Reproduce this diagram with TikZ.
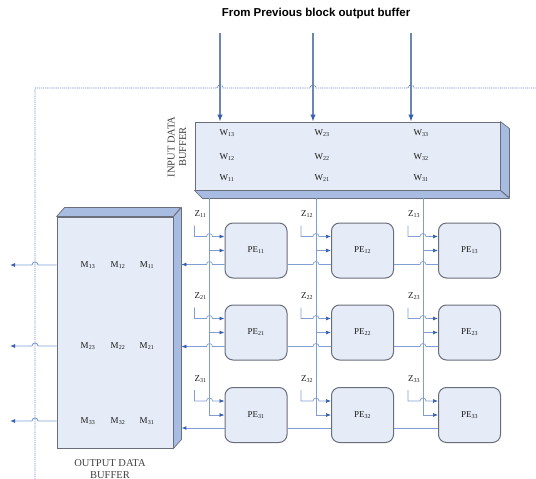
\documentclass[tikz,border=0pt]{standalone}
\usepackage{fontspec}
\setmainfont{Liberation Serif}
\setsansfont{Liberation Sans}
\usetikzlibrary{arrows.meta,calc}
\definecolor{boxfill}{RGB}{229,235,247}
\definecolor{sidefill}{RGB}{168,188,226}
\definecolor{edgegray}{RGB}{105,110,122}
\definecolor{wireblue}{RGB}{128,158,212}
\definecolor{tipblue}{RGB}{55,95,175}
\definecolor{frameblue}{RGB}{112,136,200}
\tikzset{
    buffer/.style={draw=edgegray,fill=boxfill,line width=0.9pt,inner sep=0pt},
    bufside/.style={draw=edgegray,fill=sidefill,line width=0.7pt,line join=round},
    pebox/.style={draw=edgegray,fill=boxfill,rounded corners=8pt,line width=1pt,minimum width=62pt,minimum height=55pt,inner sep=0pt},
    lbl/.style={font=\fontsize{9}{10}\selectfont,text=black!90},
    caplbl/.style={font=\fontsize{10.5}{11.5}\selectfont,text=black!75,align=center},
    wire/.style={draw=wireblue,line width=0.7pt},
    feed/.style={wire,-{Latex[length=5pt,width=4pt,color=tipblue]}},
    inwire/.style={draw=wireblue!85!black,line width=1.2pt,-{Latex[length=7pt,width=5.5pt,color=tipblue]}},
    frame/.style={draw=frameblue,dash pattern=on 1.2pt off 0.9pt,line width=0.9pt}
}
\begin{document}
\begin{tikzpicture}[x=1pt,y=-1pt]
\useasboundingbox (0,0) rectangle (536,479);
\node[font=\sffamily\bfseries\fontsize{11.5}{13}\selectfont] (title) at (316,14) {From Previous block output buffer};
\coordinate (src1) at (220,33);
\coordinate (src2) at (313,33);
\coordinate (src3) at (411,33);
\coordinate (fcorner) at (35,88);
\coordinate (exitx) at (10,0);
% buffers
\node[buffer,minimum width=305pt,minimum height=68pt] (inbuf) at (347.5,156) {};
\draw[bufside] (inbuf.north east) -- ++(9,7) -- ++(0,69) -- (inbuf.south east) -- cycle;
\draw[bufside] (inbuf.south west) -- (inbuf.south east) -- ++(9,8) -- ($(inbuf.south west)+(8,8)$) -- cycle;
\coordinate (inbot) at ($(inbuf.south west)+(8,8)$);
\node[buffer,minimum width=116pt,minimum height=231pt] (outbuf) at (115,332.5) {};
\draw[bufside] (outbuf.north west) -- ++(8,-9) -- ++(116,0) -- (outbuf.north east) -- cycle;
\draw[bufside] (outbuf.north east) -- ++(8,-9) -- ++(0,232) -- (outbuf.south east) -- cycle;
\coordinate (oside) at ($(outbuf.north east)+(8,0)$);
\node[caplbl,rotate=90] (inlbl) at (177,147) {INPUT DATA\\BUFFER};
\node[caplbl] (outlbl) at (110,469) {OUTPUT DATA\\BUFFER};
% buffer contents
\node[lbl,anchor=west] (w13) at (216,133) {W\textsubscript{13}};
\node[lbl,anchor=west] (w23) at (311,133) {W\textsubscript{23}};
\node[lbl,anchor=west] (w33) at (410,133) {W\textsubscript{33}};
\node[lbl,anchor=west] (w12) at (216,157) {W\textsubscript{12}};
\node[lbl,anchor=west] (w22) at (311,157) {W\textsubscript{22}};
\node[lbl,anchor=west] (w32) at (410,157) {W\textsubscript{32}};
\node[lbl,anchor=west] (w11) at (216,178) {W\textsubscript{11}};
\node[lbl,anchor=west] (w21) at (311,178) {W\textsubscript{21}};
\node[lbl,anchor=west] (w31) at (410,178) {W\textsubscript{31}};
\node[lbl] (m13) at (88,265) {M\textsubscript{13}};
\node[lbl] (m12) at (118,265) {M\textsubscript{12}};
\node[lbl] (m11) at (147,265) {M\textsubscript{11}};
\node[lbl] (m23) at (88,346) {M\textsubscript{23}};
\node[lbl] (m22) at (118,346) {M\textsubscript{22}};
\node[lbl] (m21) at (147,346) {M\textsubscript{21}};
\node[lbl] (m33) at (88,421) {M\textsubscript{33}};
\node[lbl] (m32) at (118,421) {M\textsubscript{32}};
\node[lbl] (m31) at (147,421) {M\textsubscript{31}};
% processing elements
\node[pebox] (pe11) at (256,250.5) {};
\node[pebox] (pe12) at (362.5,250.5) {};
\node[pebox] (pe13) at (469.5,250.5) {};
\node[pebox] (pe21) at (256,332.5) {};
\node[pebox] (pe22) at (362.5,332.5) {};
\node[pebox] (pe23) at (469.5,332.5) {};
\node[pebox] (pe31) at (256,415) {};
\node[pebox] (pe32) at (362.5,415) {};
\node[pebox] (pe33) at (469.5,415) {};
\foreach \r in {1,2,3}{\foreach \c in {1,2,3}{
  \node[lbl] at (pe\r\c) {PE\textsubscript{\r\c}};
}}
% frame and inputs
\draw[frame] (35,479) -- (fcorner) -- ($(src1 |- fcorner)+(-3,0)$) arc[start angle=180,end angle=0,radius=3pt] -- ($(src2 |- fcorner)+(-3,0)$) arc[start angle=180,end angle=0,radius=3pt] -- ($(src3 |- fcorner)+(-3,0)$) arc[start angle=180,end angle=0,radius=3pt] -- (536,88);
\draw[inwire] (src1) -- (src1 |- inbuf.north);
\draw[inwire] (src2) -- (src2 |- inbuf.north);
\draw[inwire] (src3) -- (src3 |- inbuf.north);
% weight lines
\foreach \c in {1,2,3}{
  \coordinate (v\c) at ($(pe1\c.west)+(-15,0)$);
  \draw[feed] (v\c |- inbot) -- (v\c |- pe3\c.west) -- (pe3\c.west);
  \draw[feed] (v\c |- pe1\c.west) -- (pe1\c.west);
  \draw[feed] (v\c |- pe2\c.west) -- (pe2\c.west);
}
% z inputs
\foreach \r in {1,2,3}{\foreach \c in {1,2,3}{
  \coordinate (z\r\c) at ($(pe\r\c.west)+(-30,-25)$);
  \node[lbl] (zl\r\c) at ($(z\r\c)+(6,-11)$) {Z\textsubscript{\r\c}};
  \draw[feed] (z\r\c) |- ($(pe\r\c.west)+(-18,-14)$) arc[start angle=180,end angle=0,radius=3pt] -- ($(pe\r\c.west)+(0,-14)$);
}}
% results
\foreach \r in {1,2}{
  \draw[wire] ($(pe\r3.west)+(0,14)$) -- ($(v3 |- pe\r3.west)+(3,14)$) arc[start angle=0,end angle=180,radius=3pt] -- ($(pe\r2.east)+(0,14)$);
  \draw[wire] ($(pe\r2.west)+(0,14)$) -- ($(v2 |- pe\r2.west)+(3,14)$) arc[start angle=0,end angle=180,radius=3pt] -- ($(pe\r1.east)+(0,14)$);
  \draw[feed] ($(pe\r1.west)+(0,14)$) -- ($(v1 |- pe\r1.west)+(3,14)$) arc[start angle=0,end angle=180,radius=3pt] -- ($(oside |- pe\r1.west)+(0,14)$);
}
\draw[wire,line width=1pt] ($(pe33.west)+(0,13)$) -- ($(pe32.east)+(0,13)$);
\draw[wire,line width=1pt] ($(pe32.west)+(0,13)$) -- ($(pe31.east)+(0,13)$);
\draw[feed,line width=1pt] ($(pe31.west)+(0,13)$) -- ($(oside |- pe31.west)+(0,13)$);
\foreach \r in {1,2,3}{
  \draw[feed,line width=0.9pt] (outbuf.west |- m\r3) -- ($(fcorner |- m\r3)+(3,0)$) arc[start angle=0,end angle=180,radius=3pt] -- (exitx |- m\r3);
}
\end{tikzpicture}
\end{document}
